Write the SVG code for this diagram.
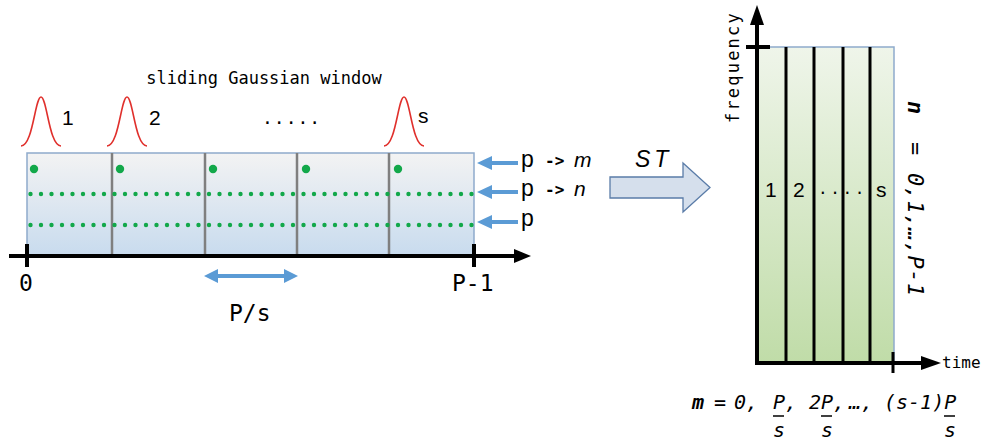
<svg xmlns="http://www.w3.org/2000/svg" width="984" height="444" viewBox="0 0 984 444">
<defs>
<linearGradient id="gBlue" x1="0" y1="0" x2="0" y2="1">
<stop offset="0" stop-color="#f3f3f3"/>
<stop offset="1" stop-color="#c8dbee"/>
</linearGradient>
<linearGradient id="gGreen" x1="0" y1="0" x2="0" y2="1">
<stop offset="0" stop-color="#eff5ea"/>
<stop offset="1" stop-color="#c0dca8"/>
</linearGradient>
<style>
.mono{font-family:"DejaVu Sans Mono","Liberation Mono",monospace;fill:#000}
.sans{font-family:"Liberation Sans","Noto Sans",sans-serif;fill:#000}
.ax{stroke:#000;stroke-width:4;fill:none}
.div{stroke:#7f7f7f;stroke-width:2.5}
.bdiv{stroke:#000;stroke-width:3}
.gauss{fill:none;stroke:#e0302c;stroke-width:1.6}
.blue{stroke:#5b9bd5;stroke-width:4;fill:none}
.bluehead{fill:#5b9bd5}
.dots{stroke:#12a84a;stroke-width:4.4;stroke-linecap:round;stroke-dasharray:0 10.5}
.bigdot{fill:#12a84a}
.fml{font-family:"DejaVu Sans Mono","Liberation Mono",monospace;font-style:italic;font-size:20px;fill:#000}
.ul{stroke:#000;stroke-width:1.5}
</style>
</defs>

<g id="title">
<text class="mono" x="264" y="84" font-size="17" text-anchor="middle">sliding Gaussian window</text>
</g>

<g id="gaussians">
<path class="gauss" d="M21,146 C33,146 35,97 41,97 C47,97 49,146 61,146"/>
<path class="gauss" d="M107,146 C119,146 121,97 127,97 C133,97 135,146 147,146"/>
<path class="gauss" d="M384,146 C396,146 398,97 404,97 C410,97 412,146 424,146"/>
<text class="sans" x="62" y="125" font-size="21">1</text>
<text class="sans" x="149" y="125" font-size="21">2</text>
<text class="mono" x="262" y="124" font-size="18" letter-spacing="1">.....</text>
<text class="sans" x="418" y="123" font-size="21">s</text>
</g>

<g id="signal-panel">
<rect x="27" y="153" width="447" height="103" fill="url(#gBlue)" stroke="#8eaacc" stroke-width="1.5"/>
<line class="div" x1="112" y1="153" x2="112" y2="256"/>
<line class="div" x1="205" y1="153" x2="205" y2="256"/>
<line class="div" x1="297" y1="153" x2="297" y2="256"/>
<line class="div" x1="389" y1="153" x2="389" y2="256"/>
<circle class="bigdot" cx="34" cy="169" r="4.2"/>
<circle class="bigdot" cx="120" cy="169" r="4.2"/>
<circle class="bigdot" cx="213" cy="169" r="4.2"/>
<circle class="bigdot" cx="306" cy="169" r="4.2"/>
<circle class="bigdot" cx="398" cy="169" r="4.2"/>
<line class="dots" x1="30.5" y1="194" x2="472" y2="194"/>
<line class="dots" x1="30.5" y1="225" x2="472" y2="225"/>
</g>

<g id="axis-left">
<line class="ax" x1="9" y1="256" x2="516" y2="256"/>
<polygon points="531,256 514,249 514,263" fill="#000"/>
<line class="ax" x1="27" y1="244" x2="27" y2="267"/>
<line class="ax" x1="474" y1="244" x2="474" y2="267"/>
<text class="mono" x="19" y="291" font-size="23">0</text>
<text class="mono" x="452" y="291" font-size="23">P-1</text>
<text class="mono" x="229" y="321" font-size="23">P/s</text>
</g>

<g id="connectors">
<line class="blue" x1="518" y1="163" x2="488" y2="163"/>
<polygon class="bluehead" points="477,163 492,156 492,170"/>
<line class="blue" x1="518" y1="192" x2="488" y2="192"/>
<polygon class="bluehead" points="477,192 492,185 492,199"/>
<line class="blue" x1="518" y1="222" x2="488" y2="222"/>
<polygon class="bluehead" points="477,222 492,215 492,229"/>
<line class="blue" x1="216" y1="276" x2="286" y2="276"/>
<polygon class="bluehead" points="204,276 218,269 218,283"/>
<polygon class="bluehead" points="298,276 284,269 284,283"/>
</g>

<g id="row-labels">
<text class="sans" x="521" y="167" font-size="23">p</text>
<text class="mono" x="545" y="166" font-size="16" font-weight="bold">-&gt;</text>
<text class="sans" x="574" y="167" font-size="21" font-style="italic">m</text>
<text class="sans" x="521" y="196" font-size="23">p</text>
<text class="mono" x="545" y="195" font-size="16" font-weight="bold">-&gt;</text>
<text class="sans" x="574" y="196" font-size="21" font-style="italic">n</text>
<text class="sans" x="521" y="226" font-size="23">p</text>
</g>

<g id="st-arrow">
<polygon points="610,177 683,177 683,163 710,187.5 683,212 683,198 610,198" fill="#d5dfec" stroke="#5a7ca8" stroke-width="1.3"/>
<text class="sans" x="635" y="167" font-size="23" font-style="italic" letter-spacing="4">ST</text>
</g>

<g id="tf-panel">
<rect x="757" y="47" width="137" height="316" fill="url(#gGreen)" stroke="#8eaacc" stroke-width="1.5"/>
<line class="bdiv" x1="786" y1="47" x2="786" y2="363"/>
<line class="bdiv" x1="814" y1="47" x2="814" y2="363"/>
<line class="bdiv" x1="843" y1="47" x2="843" y2="363"/>
<line class="bdiv" x1="870" y1="47" x2="870" y2="363"/>
<text class="sans" x="765" y="197" font-size="21">1</text>
<text class="sans" x="793" y="197" font-size="21">2</text>
<text class="mono" x="818" y="194" font-size="16" letter-spacing="2.6">....</text>
<text class="sans" x="876" y="197" font-size="21">s</text>
</g>

<g id="axis-right">
<line class="ax" x1="757" y1="365" x2="757" y2="22"/>
<polygon points="757,5 750,25 764,25" fill="#000"/>
<line class="ax" x1="746" y1="47" x2="770" y2="47"/>
<line class="ax" x1="755" y1="363" x2="924" y2="363"/>
<polygon points="941,363 921,356 921,370" fill="#000"/>
<line stroke="#000" stroke-width="3" x1="893" y1="352" x2="893" y2="373"/>
<text class="mono" x="942" y="368" font-size="16">time</text>
<text class="mono" font-size="17" letter-spacing="2.2" transform="translate(739,123) rotate(-90)">frequency</text>
</g>

<g id="n-formula" transform="translate(908,101) rotate(90)">
<text class="mono" x="0" y="0" font-size="22" font-style="italic" font-weight="bold">n</text>
<text class="mono" x="41" y="0" font-size="22" font-style="italic">=</text>
<text class="mono" x="72" y="0" font-size="22" font-style="italic" letter-spacing="0.5">0,1,…,P-1</text>
</g>

<g id="m-formula">
<text class="fml" x="692" y="409" font-weight="bold">m</text>
<text class="fml" x="714" y="409">=</text>
<text class="fml" x="734" y="409">0,</text>
<text class="fml" x="773" y="409">P,</text>
<text class="fml" x="809" y="409">2P,</text>
<text class="fml" x="849" y="409">…,</text>
<text class="fml" x="884" y="409">(s-1)P</text>
<line class="ul" x1="773" y1="416" x2="784" y2="416"/>
<line class="ul" x1="821" y1="416" x2="832" y2="416"/>
<line class="ul" x1="944" y1="416" x2="955" y2="416"/>
<text class="fml" x="773" y="437">s</text>
<text class="fml" x="821" y="437">s</text>
<text class="fml" x="944" y="437">s</text>
</g>
</svg>
